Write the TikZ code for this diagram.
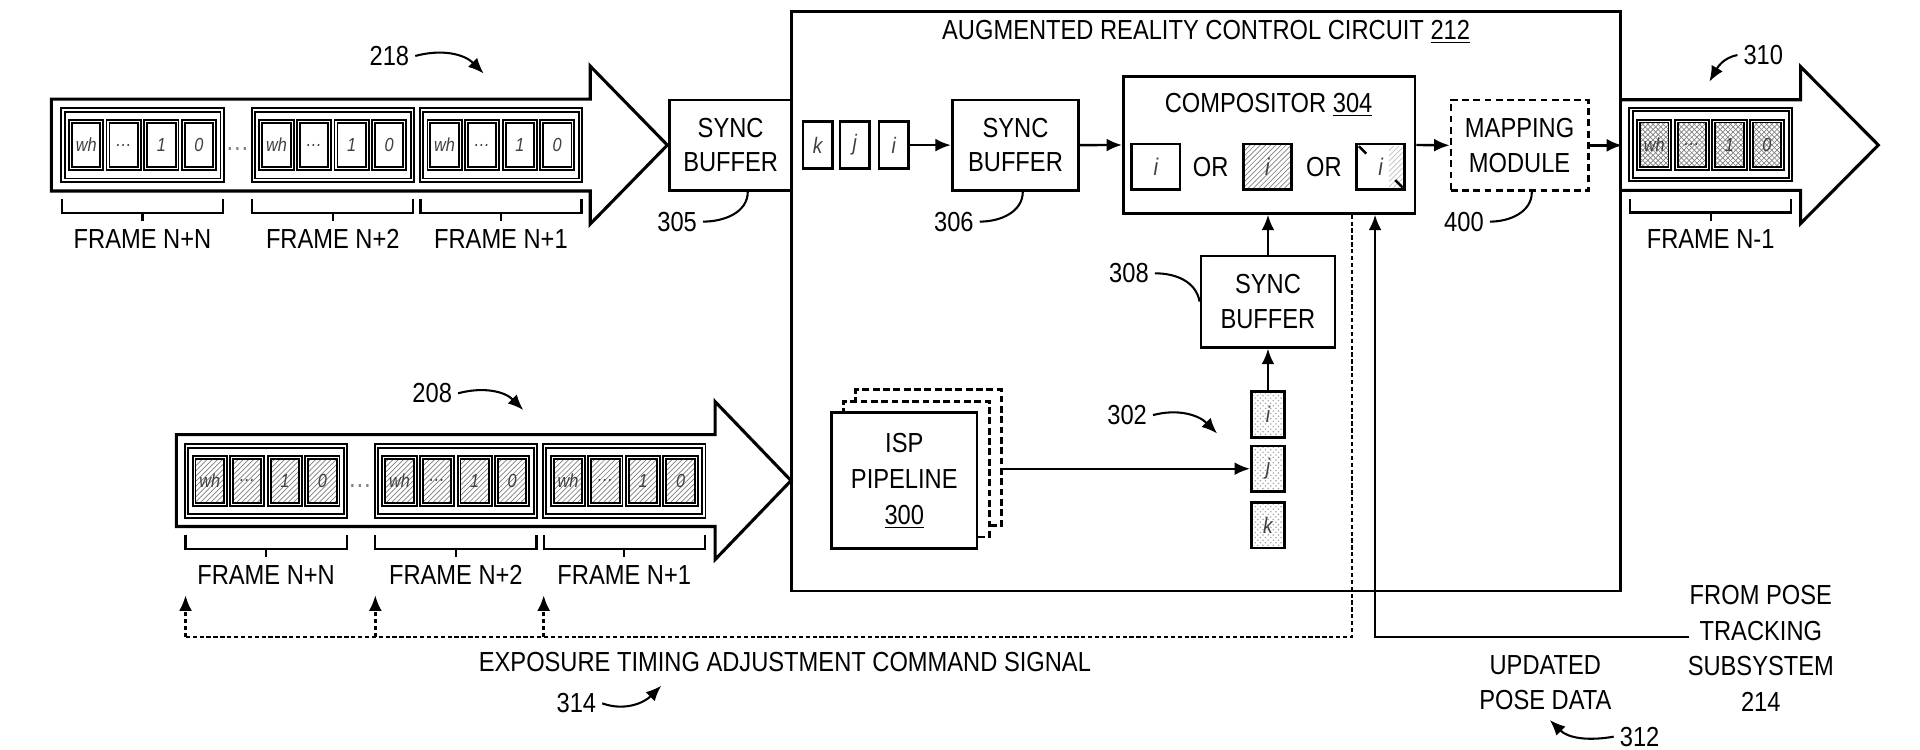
\documentclass[tikz,border=0pt]{standalone}
\usepackage{fontspec}
\setmainfont{Liberation Sans}[FakeStretch=0.86]
\usepackage{tikz}
\usetikzlibrary{calc}
\usetikzlibrary{positioning}
\usetikzlibrary{patterns}
\usetikzlibrary{arrows.meta}
\newcommand{\framerow}[3]{%
	\node[frm] (#1) at (#2) {};
	\foreach \dx/\txt [count=\k] in {-46/wh,-15.4/\dots,15.4/1,46/0}
		\node[cell,#3] (#1\k) at ($(#1)+(\dx,0)$) {\txt};
}
\newcommand{\framebrk}[2]{%
	\draw[brk] ($(#1.south west)+(0,-15)$) -- ($(#1.south west)+(0,-26)$) -- ($(#1.south east)+(0,-26)$) -- ($(#1.south east)+(0,-15)$);
	\draw[brk] ($(#1.south)+(0,-26)$) -- ($(#1.south)+(0,-33)$);
	\node (#1lab) at ($(#1.south)+(0,-47.5)$) {#2};
}

\begin{document}
\begin{tikzpicture}[x=0.025cm, y=0.025cm, font=\fontsize{16}{20}\selectfont]
	\tikzset{>={Latex[length=9pt,width=7.5pt]}}
	\tikzset{
		box/.style={draw, line width=1.6pt, fill=white, align=center, inner sep=1pt},
		frm/.style={draw, double, line width=1.1pt, double distance=0.8pt, minimum width=3.25cm, minimum height=1.43cm, inner sep=0pt},
		cell/.style={draw, double, line width=1.1pt, double distance=0.6pt, minimum width=0.64cm, minimum height=0.96cm, inner sep=0pt, font=\fontsize{11}{11}\selectfont\itshape, text=darkgray},
		letter/.style={draw, line width=1.6pt, fill=white, inner sep=0pt, font=\fontsize{13}{13}\selectfont\itshape, text=darkgray},
		hatch/.style={pattern=north east lines, pattern color=gray},
		xhatch/.style={preaction={pattern=north west lines, pattern color=gray}, pattern=north east lines, pattern color=gray},
		speck/.style={pattern=crosshatch dots, pattern color=gray!70},
		wire/.style={line width=1.4pt},
		dashwire/.style={line width=1.4pt, dash pattern=on 2.5pt off 1.5pt},
		brk/.style={line width=1.3pt},
		lead/.style={line width=1.2pt},
		bigarrow/.style={line width=1.8pt, fill=white}
	}
	\useasboundingbox (0,0) rectangle (1568,612);
	
	% big arrows
	\draw[bigarrow] (42,531) -- (482,531) -- (482,558) -- (545,493.5) -- (482,429) -- (482,456) -- (42,456) -- cycle;
	\draw[bigarrow] (144,257) -- (584,257) -- (584,284) -- (646,219.5) -- (584,155) -- (584,182) -- (144,182) -- cycle;
	\draw[bigarrow] (1323.5,530.5) -- (1470.5,530.5) -- (1470.5,557.5) -- (1534,493.5) -- (1470.5,429.5) -- (1470.5,456.5) -- (1323.5,456.5);
	
	% control circuit
	\node[draw, line width=1.6pt, minimum width=16.93cm, minimum height=11.83cm] (arc) at (985,366) {};
	\node (arct) at (985,586) {AUGMENTED REALITY CONTROL CIRCUIT \underline{212}};
	
	% frames 218
	\framerow{tnn}{116.4,493.5}{}
	\framerow{tn2}{271.8,493.5}{}
	\framerow{tn1}{409.1,493.5}{}
	\node[text=gray] (tdots) at (194,490) {\dots};
	\framebrk{tnn}{FRAME N+N}
	\framebrk{tn2}{FRAME N+2}
	\framebrk{tn1}{FRAME N+1}
	
	% frames 208
	\framerow{bnn}{217.3,219.2}{hatch}
	\framerow{bn2}{372.3,219.2}{hatch}
	\framerow{bn1}{509.8,219.2}{hatch}
	\node[text=gray] (bdots) at (294,215) {\dots};
	\framebrk{bnn}{FRAME N+N}
	\framebrk{bn2}{FRAME N+2}
	\framebrk{bn1}{FRAME N+1}
	
	% frame 310
	\framerow{onm}{1397,493.9}{xhatch}
	\framebrk{onm}{FRAME N-1}
	
	% blocks
	\node[box, minimum width=2.485cm, minimum height=1.84cm] (s305) at (596.7,493.5) {SYNC\\BUFFER};
	\node[letter, minimum width=0.6cm, minimum height=0.95cm] (ck) at (667.8,493.5) {k};
	\node[letter, minimum width=0.6cm, minimum height=0.95cm] (cj) at (698,493.5) {j};
	\node[letter, minimum width=0.6cm, minimum height=0.95cm] (ci) at (729.8,493.5) {i};
	\node[box, minimum width=2.58cm, minimum height=1.84cm] (s306) at (829.3,493.5) {SYNC\\BUFFER};
	\node[box, minimum width=5.95cm, minimum height=2.79cm] (comp) at (1036.5,493.6) {};
	\node (compt) at (1036,526.3) {COMPOSITOR \underline{304}};
	\node[letter, minimum width=0.985cm, minimum height=0.935cm, font=\fontsize{14}{14}\selectfont\itshape] (ci1) at (944,475.7) {i};
	\node (or1) at (988.7,476) {OR};
	\node[letter, hatch, minimum width=0.985cm, minimum height=0.935cm, font=\fontsize{14}{14}\selectfont\itshape] (ci2) at (1035,475.7) {i};
	\node (or2) at (1081.2,476) {OR};
	\node[letter, minimum width=0.985cm, minimum height=0.935cm, font=\fontsize{14}{14}\selectfont\itshape] (ci3) at (1127.6,475.7) {i};
	\fill[pattern=north east lines, pattern color=lightgray] ($(ci3.north east)+(-14,-3)$) rectangle ($(ci3.south east)+(-3,3)$);
	\draw[line width=1.4pt] ($(ci3.north west)+(3,-3)$) -- ++(6,-6);
	\draw[line width=1.4pt] ($(ci3.south east)+(-3,3)$) -- ++(-6,6);
	\node[box, dash pattern=on 4pt off 2.5pt, minimum width=2.8cm, minimum height=1.85cm] (map) at (1241,493.3) {MAPPING\\MODULE};
	\node[box, minimum width=2.735cm, minimum height=1.865cm] (s308) at (1035.5,365.7) {SYNC\\BUFFER};
	\node[box, dash pattern=on 4pt off 2pt, minimum width=2.97cm, minimum height=2.77cm] (isp3) at (758.3,238.2) {};
	\node[box, dash pattern=on 4pt off 2pt, minimum width=2.97cm, minimum height=2.77cm] (isp2) at (748.4,228.9) {};
	\node[box, minimum width=2.97cm, minimum height=2.77cm, font=\fontsize{16}{21}\selectfont] (isp) at (738.5,219.6) {ISP\\PIPELINE\\\underline{300}};
	\node[letter, speck, minimum width=0.675cm, minimum height=0.925cm] (pi) at (1035.5,273.5) {i};
	\node[letter, speck, minimum width=0.675cm, minimum height=0.925cm] (pj) at (1035.5,229.2) {j};
	\node[letter, speck, minimum width=0.675cm, minimum height=0.925cm] (pk) at (1035.5,183) {k};
	
	% connectors
	\draw[wire,->] (ci.east) -- (s306.west);
	\draw[wire,->] (s306.east) -- (comp.west);
	\draw[wire,->] (comp.east) -- (map.west);
	\draw[wire,->] (map.east) -- (map.east -| arc.east);
	\draw[wire,->] (s308.north) -- (s308.north |- comp.south);
	\draw[wire,->] (pi.north) -- (s308.south);
	\draw[wire,->] (isp3.east |- pj.west) -- (pj.west);
	
	\coordinate (pose) at (1379.6,91.7);
	\coordinate (posec) at (1123,91.7);
	\draw[wire,->] (pose) -- (posec) -- (posec |- comp.south);
	\coordinate (expc) at (1104,91.7);
	\draw[dashwire] (expc |- comp.south) -- (expc) -- (bnn.south west |- expc);
	\foreach \f in {bnn,bn2,bn1}
		\draw[dashwire,->] (\f.south west |- expc) -- ($(\f.south west)+(0,-64)$);
	
	% texts
	\node (ets) at (641,71.6) {EXPOSURE TIMING ADJUSTMENT COMMAND SIGNAL};
	\node[align=center] (upd) at (1262,54.6) {UPDATED\\POSE DATA};
	\node[align=center, font=\fontsize{16}{20.6}\selectfont] (pts) at (1438,82.5) {FROM POSE\\TRACKING\\SUBSYSTEM\\214};
	
	% reference numbers
	\node (n218) at (318,566.3) {218};
	\coordinate (a218) at (395,552);
	\draw[lead,->] (n218.east) to[out=15,in=135] (a218);
	\node (n208) at (353,290.8) {208};
	\coordinate (a208) at (427.3,277.2);
	\draw[lead,->] (n208.east) to[out=15,in=135] (a208);
	\node (n302) at (920.5,273) {302};
	\coordinate (a302) at (994,258);
	\draw[lead,->] (n302.east) to[out=15,in=135] (a302);
	\node (n310) at (1440,567) {310};
	\coordinate (a310) at (1396,545.3);
	\draw[lead,->] (n310.west) to[out=190,in=60] (a310);
	\node (n314) at (470.7,37.6) {314};
	\coordinate (a314) at (540,52);
	\draw[lead,->] (n314.east) to[out=-20,in=-135] (a314);
	\node (n312) at (1339,10.4) {312};
	\coordinate (a312) at (1265.7,24);
	\draw[lead,->] (n312.west) to[out=190,in=-45] (a312);
	\node (n305) at (553,431) {305};
	\draw[lead] (n305.east) to[out=0,in=-90] ($(s305.south)+(14,0)$);
	\node (n306) at (779,431) {306};
	\draw[lead] (n306.east) to[out=0,in=-90] ($(s306.south)+(6,0)$);
	\node (n400) at (1195.6,431) {400};
	\draw[lead] (n400.east) to[out=0,in=-90] ($(map.south)+(10,0)$);
	\node (n308) at (922,388.8) {308};
	\draw[lead] (n308.east) to[out=0,in=100] (s308.west);
	
\end{tikzpicture}
\end{document}
